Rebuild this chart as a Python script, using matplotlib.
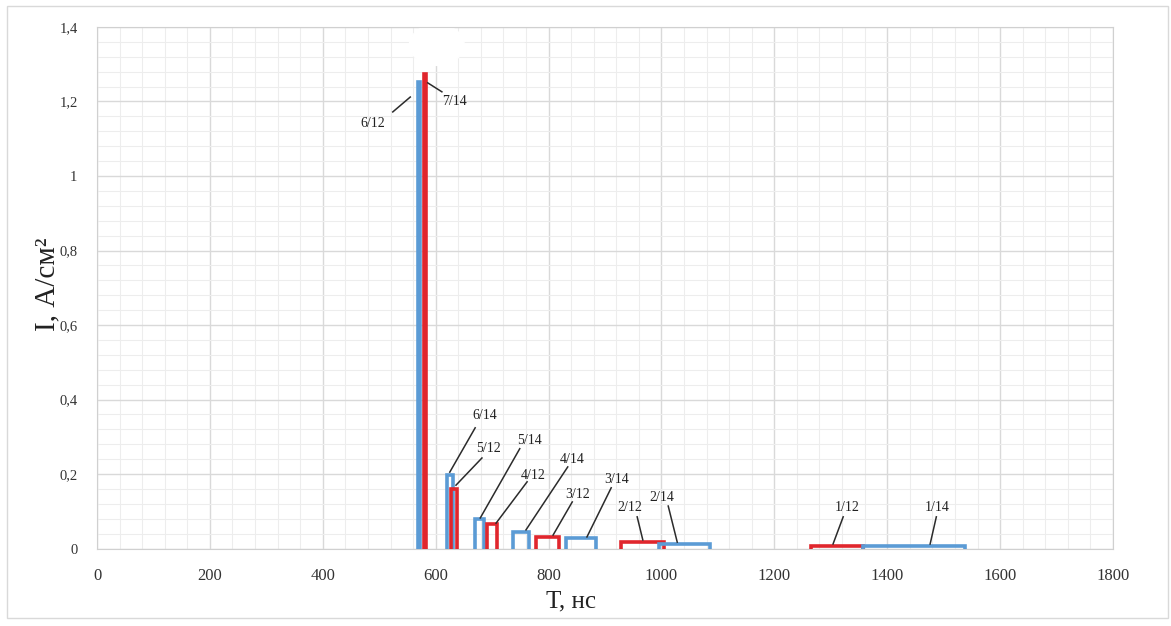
import numpy as np
import matplotlib.pyplot as plt
from matplotlib.patches import Rectangle, Ellipse
from matplotlib.ticker import MultipleLocator, FuncFormatter

# pulse data: start time, end time (ns), current density (A/cm2)
blue_labels = ['6/12', '6/14', '5/14', '4/14', '3/14', '2/14', '1/14']
blue_start = [569.5, 620, 670, 737, 831, 996, 1357]
blue_end = [572, 630, 686, 765, 884, 1086, 1538]
blue_height = [1.253, 0.197, 0.078, 0.044, 0.028, 0.012, 0.007]

red_labels = ['7/14', '5/12', '4/12', '3/12', '2/12', '1/12']
red_start = [579.5, 628, 691, 778, 928, 1265]
red_end = [582, 638, 709, 818, 1005, 1357]
red_height = [1.273, 0.161, 0.065, 0.032, 0.017, 0.007]

x_ticks = [0, 200, 400, 600, 800, 1000, 1200, 1400, 1600, 1800]

# where the labels and their leader lines sit: text centre, line start, line end
label_layout = {
    '6/12': ((489, 1.142), (524, 1.172), (555, 1.212)),
    '7/14': ((634, 1.201), (586, 1.250), (611, 1.226)),
    '6/14': ((687, 0.358), (670, 0.324), (625, 0.205)),
    '5/12': ((693, 0.268), (682, 0.243), (636, 0.170)),
    '5/14': ((767, 0.291), (749, 0.268), (679, 0.082)),
    '4/12': ((772, 0.195), (762, 0.179), (707, 0.068)),
    '4/14': ((842, 0.238), (834, 0.219), (760, 0.050)),
    '3/12': ((852, 0.146), (842, 0.125), (808, 0.036)),
    '3/14': ((921, 0.184), (911, 0.163), (868, 0.031)),
    '2/12': ((944, 0.109), (957, 0.085), (967, 0.023)),
    '2/14': ((1001, 0.138), (1012, 0.114), (1028, 0.017)),
    '1/12': ((1329, 0.111), (1322, 0.085), (1304, 0.012)),
    '1/14': ((1488, 0.109), (1487, 0.085), (1476, 0.012)),
}

BLUE = '#5b9bd5'
RED = '#e0262d'
GRID = '#d9d9d9'
FONT = 'Liberation Serif'

plt.rcParams['font.family'] = [FONT, 'DejaVu Serif']

fig = plt.figure(figsize=(11.71, 6.26), dpi=100)
ax = fig.add_axes([97/1171, 1 - 548.5/626, 1016/1171, 521.5/626])

# outer chart border
fig.patches.append(Rectangle((7/1171, 1 - 618/626), 1161/1171, 612/626,
                             transform=fig.transFigure, fill=False,
                             edgecolor='#d9d9d9', linewidth=1))

ax.set_xlim(0, 1800)
ax.set_ylim(0, 1.4)
ax.set_xticks(x_ticks)
ax.xaxis.set_minor_locator(MultipleLocator(40))
ax.yaxis.set_major_locator(MultipleLocator(0.2))
ax.yaxis.set_minor_locator(MultipleLocator(0.04))
ax.yaxis.set_major_formatter(FuncFormatter(lambda v, p: ('%g' % round(v, 2)).replace('.', ',')))

ax.grid(which='major', color=GRID, linewidth=1)
ax.grid(which='minor', color='#ededed', linewidth=0.8)
ax.set_axisbelow(True)
for s in ax.spines.values():
    s.set_color('#d0d0d0')
ax.tick_params(which='both', length=0)
ax.tick_params(axis='x', labelsize=12, pad=14, labelcolor='#333333')
ax.tick_params(axis='y', labelsize=10.5, pad=14, labelcolor='#333333')

# white patch above the tall pulses
ax.add_patch(Ellipse((602, 1.352), 97, 0.11, color='white', zorder=1))

# pulses drawn in time order so the later one lies on top
pulses = [(a, b, h, BLUE) for a, b, h in zip(blue_start, blue_end, blue_height)]
pulses += [(a, b, h, RED) for a, b, h in zip(red_start, red_end, red_height)]
pulses.sort(key=lambda p: p[0])
for i, (a, b, h, c) in enumerate(pulses):
    st = ax.stairs([h], [a, b], baseline=0, fill=False, color=c,
                   linewidth=2.6, zorder=3 + i * 0.01)
    st.set_joinstyle('miter')

for lab, (txt, p0, p1) in label_layout.items():
    ax.plot([p0[0], p1[0]], [p0[1], p1[1]], color='#2b2b2b', linewidth=1.1, zorder=5)
    ax.text(txt[0], txt[1], lab, ha='center', va='center', fontsize=10,
            color='#222222', zorder=6)

fig.text(47/1171, 1 - 284/626, 'I, А/см²', rotation=90, ha='center', va='center',
         fontsize=21, color='#222222')
fig.text(571/1171, 1 - 601/626, 'Т, нс', ha='center', va='center',
         fontsize=18, color='#222222')

fig.savefig('out.png', dpi=100)
